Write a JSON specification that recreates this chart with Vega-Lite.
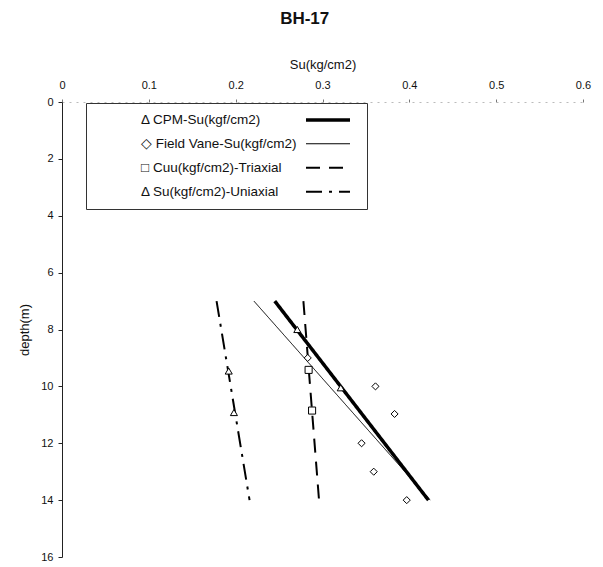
{
  "$schema": "https://vega.github.io/schema/vega-lite/v6.json",
  "width": 521,
  "height": 455,
  "autosize": {"type": "none"},
  "padding": {"left": 62, "top": 102, "right": 20, "bottom": 10},
  "title": {"text": "BH-17", "anchor": "middle", "frame": "bounds", "fontSize": 17, "fontWeight": "bold", "font": "Liberation Sans", "offset": 30, "color": "#111"},
  "config": {"view": {"stroke": null}, "font": "Liberation Sans", "axis": {"grid": false}},
  "datasets": {
    "lines": [
      {"series": "CPM-Su(kgf/cm2)", "su": 0.245, "depth": 7},
      {"series": "CPM-Su(kgf/cm2)", "su": 0.422, "depth": 14},
      {"series": "Field Vane-Su(kgf/cm2)", "su": 0.221, "depth": 7},
      {"series": "Field Vane-Su(kgf/cm2)", "su": 0.424, "depth": 14},
      {"series": "Cuu(kgf/cm2)-Triaxial", "su": 0.278, "depth": 7},
      {"series": "Cuu(kgf/cm2)-Triaxial", "su": 0.296, "depth": 14},
      {"series": "Su(kgf/cm2)-Uniaxial", "su": 0.178, "depth": 7},
      {"series": "Su(kgf/cm2)-Uniaxial", "su": 0.216, "depth": 14}
    ],
    "points": [
      {"series": "CPM-Su(kgf/cm2)", "su": 0.271, "depth": 8.0},
      {"series": "CPM-Su(kgf/cm2)", "su": 0.321, "depth": 10.05},
      {"series": "Field Vane-Su(kgf/cm2)", "su": 0.283, "depth": 9.0},
      {"series": "Field Vane-Su(kgf/cm2)", "su": 0.361, "depth": 10.0},
      {"series": "Field Vane-Su(kgf/cm2)", "su": 0.383, "depth": 10.97},
      {"series": "Field Vane-Su(kgf/cm2)", "su": 0.345, "depth": 12.0},
      {"series": "Field Vane-Su(kgf/cm2)", "su": 0.359, "depth": 13.0},
      {"series": "Field Vane-Su(kgf/cm2)", "su": 0.397, "depth": 14.0},
      {"series": "Cuu(kgf/cm2)-Triaxial", "su": 0.284, "depth": 9.42},
      {"series": "Cuu(kgf/cm2)-Triaxial", "su": 0.288, "depth": 10.85},
      {"series": "Su(kgf/cm2)-Uniaxial", "su": 0.192, "depth": 9.46},
      {"series": "Su(kgf/cm2)-Uniaxial", "su": 0.198, "depth": 10.92}
    ]
  },
  "encoding": {
    "x": {
      "field": "su", "type": "quantitative",
      "scale": {"domain": [0, 0.6], "nice": false, "zero": false},
      "axis": {
        "orient": "top", "values": [0, 0.1, 0.2, 0.3, 0.4, 0.5, 0.6], "format": "~g",
        "title": "Su(kg/cm2)", "titleFontSize": 13, "titleFontWeight": "normal", "titlePadding": 8, "titleColor": "#111",
        "labelFontSize": 11, "labelPadding": 9, "labelColor": "#111", "labelFlush": false, "labelOverlap": false,
        "tickSize": 3, "tickColor": "#777", "domainColor": "#bbb", "domainDash": [2, 5]
      }
    },
    "y": {
      "field": "depth", "type": "quantitative",
      "scale": {"domain": [0, 16], "reverse": true, "nice": false},
      "axis": {
        "orient": "left", "values": [0, 2, 4, 6, 8, 10, 12, 14, 16],
        "title": "depth(m)", "titleFontSize": 13, "titleFontWeight": "normal", "titlePadding": 9, "titleColor": "#111",
        "labelFontSize": 11, "labelPadding": 5, "labelColor": "#111", "labelFlush": false, "labelOverlap": false,
        "tickSize": 4, "tickColor": "#222", "domainColor": "#222"
      }
    }
  },
  "layer": [
    {
      "data": {"name": "lines"},
      "mark": {"type": "line", "color": "black"},
      "encoding": {
        "strokeDash": {
          "field": "series", "type": "nominal",
          "scale": {
            "domain": ["CPM-Su(kgf/cm2)", "Field Vane-Su(kgf/cm2)", "Cuu(kgf/cm2)-Triaxial", "Su(kgf/cm2)-Uniaxial"],
            "range": [[1, 0], [1, 0], [14, 9], [16, 7, 3, 7]]
          },
          "legend": {
            "orient": "none", "legendX": 24, "legendY": 1, "title": null,
            "symbolType": "M-4.4,0H4.4", "symbolSize": 100, "symbolStrokeColor": "black",
            "symbolOffset": 225, "labelOffset": -194, "labelFontSize": 13.5, "labelFont": "Liberation Sans",
            "labelExpr": "(datum.label == 'Field Vane-Su(kgf/cm2)' ? '◇ ' : datum.label == 'Cuu(kgf/cm2)-Triaxial' ? '□ ' : 'Δ ') + datum.label",
            "labelColor": "#111", "labelLimit": 300, "rowPadding": 9, "padding": 10,
            "strokeColor": "#333", "fillColor": "transparent"
          }
        },
        "strokeWidth": {
          "field": "series", "type": "nominal",
          "scale": {
            "type": "ordinal",
            "domain": ["CPM-Su(kgf/cm2)", "Field Vane-Su(kgf/cm2)", "Cuu(kgf/cm2)-Triaxial", "Su(kgf/cm2)-Uniaxial"],
            "range": [3.5, 1, 2, 2]
          },
          "legend": {
            "orient": "none", "legendX": 24, "legendY": 1, "title": null,
            "symbolType": "M-4.4,0H4.4", "symbolSize": 100, "symbolStrokeColor": "black",
            "symbolOffset": 225, "labelOffset": -194, "labelFontSize": 13.5, "labelFont": "Liberation Sans",
            "labelExpr": "(datum.label == 'Field Vane-Su(kgf/cm2)' ? '◇ ' : datum.label == 'Cuu(kgf/cm2)-Triaxial' ? '□ ' : 'Δ ') + datum.label",
            "labelColor": "#111", "labelLimit": 300, "rowPadding": 9, "padding": 10,
            "strokeColor": "#333", "fillColor": "transparent"
          }
        }
      }
    },
    {
      "data": {"name": "points"},
      "mark": {"type": "point", "filled": false, "color": "black", "fill": "white", "strokeWidth": 1, "opacity": 1, "size": 50},
      "encoding": {
        "shape": {
          "field": "series", "type": "nominal",
          "scale": {
            "domain": ["CPM-Su(kgf/cm2)", "Cuu(kgf/cm2)-Triaxial", "Field Vane-Su(kgf/cm2)", "Su(kgf/cm2)-Uniaxial"],
            "range": ["triangle-up", "square", "diamond", "triangle-up"]
          },
          "legend": null
        }
      }
    }
  ]
}
